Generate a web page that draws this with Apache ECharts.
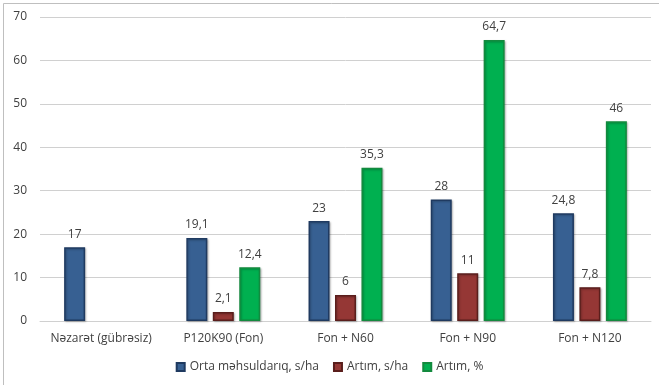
<!DOCTYPE html>
<html>
<head>
<meta charset="utf-8">
<script src="https://cdn.jsdelivr.net/npm/echarts@6/dist/echarts.min.js"></script>
<style>
  html, body { margin: 0; padding: 0; background: #fff; }
  #chart { width: 659px; height: 385px; }
</style>
</head>
<body>
<div id="chart"></div>
<script>
// Treatments on the x axis
const categories = ['Nəzarət (gübrəsiz)', 'P120K90 (Fon)', 'Fon + N60', 'Fon + N90', 'Fon + N120'];
// Mean yield, s/ha
const yieldValues = [17, 19.1, 23, 28, 24.8];
// Increase, s/ha (none for the control)
const gainValues = ['-', 2.1, 6, 11, 7.8];
// Increase, %
const gainPercent = ['-', 12.4, 35.3, 64.7, 46];
const seriesNames = ['Orta məhsuldarıq, s/ha', 'Artım, s/ha', 'Artım, %'];
const yTicks = { min: 0, max: 70, interval: 10 };

const font = 'Open Sans, "Noto Sans", sans-serif';
const textColor = '#404040';

const fmt = p => String(p.value).replace('.', ',');

function bar(name, data, color, border) {
  return {
    name, type: 'bar', data,
    barWidth: 21, barGap: '26%',
    itemStyle: { color, borderColor: border, borderWidth: 1.5,
      shadowColor: 'rgba(0,0,0,0.25)', shadowBlur: 2, shadowOffsetX: 1, shadowOffsetY: 1 },
    label: { show: true, position: 'top', distance: 7, formatter: fmt,
      color: textColor, fontFamily: font, fontSize: 12 }
  };
}

const chart = echarts.init(document.getElementById('chart'), null, { renderer: 'canvas' });
chart.setOption({
  animation: false,
  // frame edges along the left and top of the chart area
  graphic: [
    { type: 'line', shape: { x1: 3.5, y1: 3.5, x2: 3.5, y2: 385 },
      style: { stroke: '#bfbfbf', lineWidth: 1 }, z: -1 },
    { type: 'line', shape: { x1: 3.5, y1: 3.5, x2: 659, y2: 3.5 },
      style: { stroke: '#bfbfbf', lineWidth: 1 }, z: -1 }
  ],
  grid: { left: 40, right: 8, top: 17, bottom: 64 },
  legend: {
    bottom: 7, left: 'center', itemWidth: 8, itemHeight: 8, itemGap: 14,
    icon: 'rect',
    textStyle: { color: textColor, fontFamily: font, fontSize: 12 },
    data: seriesNames
  },
  xAxis: {
    type: 'category', data: categories,
    axisLine: { lineStyle: { color: '#d0d0d0' } },
    axisTick: { show: false },
    axisLabel: { color: textColor, fontFamily: font, fontSize: 12, margin: 12, interval: 0 }
  },
  yAxis: {
    type: 'value', min: yTicks.min, max: yTicks.max, interval: yTicks.interval,
    axisLine: { show: false }, axisTick: { show: false },
    splitLine: { lineStyle: { color: '#d0d0d0' } },
    axisLabel: { color: textColor, fontFamily: font, fontSize: 12, margin: 13 }
  },
  series: [
    bar(seriesNames[0], yieldValues, '#376092', '#1f3a60'),
    bar(seriesNames[1], gainValues, '#953735', '#5a1e1c'),
    bar(seriesNames[2], gainPercent, '#00b050', '#138a3e')
  ]
});
</script>
</body>
</html>
